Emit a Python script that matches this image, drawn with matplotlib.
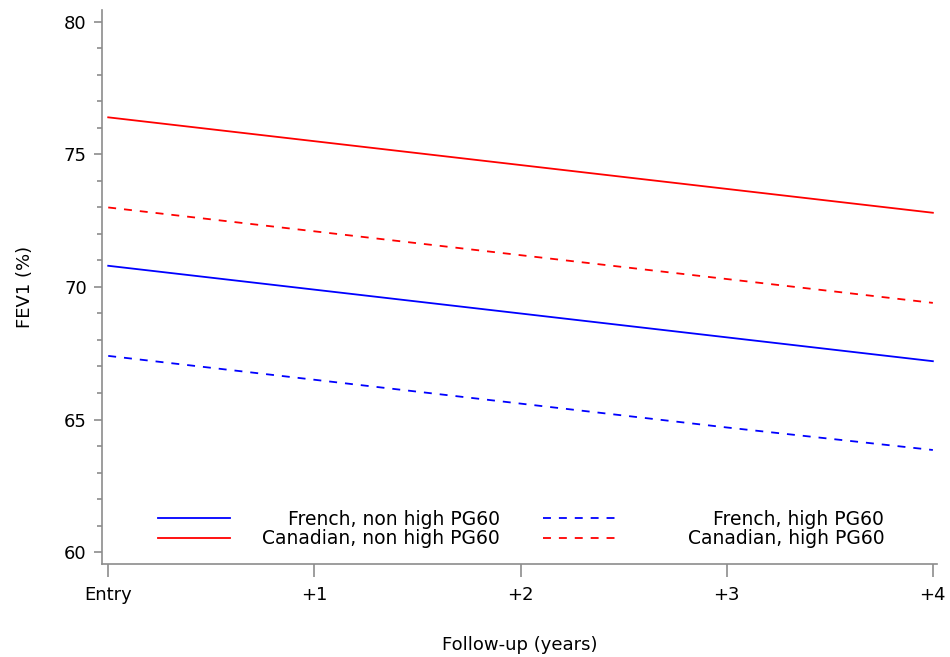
import matplotlib
matplotlib.use("Agg")
import matplotlib.pyplot as plt
from matplotlib.ticker import MultipleLocator
from matplotlib.offsetbox import HPacker, DrawingArea

# follow-up time points
years = [0, 1, 2, 3, 4]
tick_labels = ["Entry", "+1", "+2", "+3", "+4"]

# predicted FEV1 (%)
french_non_high = [70.8, 69.9, 69.0, 68.1, 67.2]
canadian_non_high = [76.4, 75.5, 74.6, 73.7, 72.8]
french_high = [67.4, 66.5, 65.6, 64.7, 63.85]
canadian_high = [73.0, 72.1, 71.2, 70.3, 69.4]

plt.rcParams["font.family"] = ["DejaVu Sans"]
plt.rcParams["font.size"] = 13

fig = plt.figure(figsize=(9.5, 6.57), dpi=100)
ax = fig.add_axes([0.1074, 0.1416, 0.8789, 0.8432])

dash = (0, (4.4, 4.4))
ax.plot(years, french_non_high, color="#0000ff", lw=1.3, label="French, non high PG60")
ax.plot(years, canadian_non_high, color="#ff0000", lw=1.3, label="Canadian, non high PG60")
ax.plot(years, french_high, color="#0000ff", lw=1.3, ls=dash, label="French, high PG60")
ax.plot(years, canadian_high, color="#ff0000", lw=1.3, ls=dash, label="Canadian, high PG60")

ax.set_xlim(-0.03, 4.02)
ax.set_ylim(59.55, 80.45)
ax.set_xticks(years)
ax.set_xticklabels(tick_labels)
ax.set_yticks([60, 65, 70, 75, 80])
ax.yaxis.set_minor_locator(MultipleLocator(1))

for side in ["top", "right"]:
    ax.spines[side].set_visible(False)
for side in ["left", "bottom"]:
    ax.spines[side].set_color("#8c8c8c")
    ax.spines[side].set_linewidth(1.2)

ax.tick_params(axis="x", which="major", length=9, width=1.2, color="#8c8c8c", pad=7)
ax.tick_params(axis="y", which="major", length=6, width=1.2, color="#8c8c8c", pad=5)
ax.tick_params(axis="y", which="minor", length=3.6, width=1.2, color="#8c8c8c")

ax.set_xlabel("Follow-up (years)")
ax.set_ylabel("FEV1 (%)")
ax.xaxis.set_label_coords(0.5, -0.130)
ax.yaxis.set_label_coords(-0.082, 0.5)

leg = ax.legend(ncol=2, frameon=False, loc="lower left",
                bbox_to_anchor=(0.067, 0.028), borderpad=0, borderaxespad=0,
                handlelength=3.84, handletextpad=1.7, columnspacing=2.3,
                labelspacing=0.05, fontsize=13.5)

# right-align legend labels to a common width (like the original)
fig.canvas.draw()
r = fig.canvas.get_renderer()
items = [it for col in leg._legend_handle_box.get_children() for it in col.get_children()]
widths = [it.get_children()[1].get_bbox(r).width for it in items]
wmax = max(widths)
for it, w in zip(items, widths):
    kids = it.get_children()
    spacer = DrawingArea((wmax - w) / r.points_to_pixels(1.0), 0)
    box = HPacker(pad=0, sep=0, align="baseline", children=[spacer, kids[1]])
    box.set_figure(fig)
    kids[1] = box

fig.savefig("out.png", dpi=100)
